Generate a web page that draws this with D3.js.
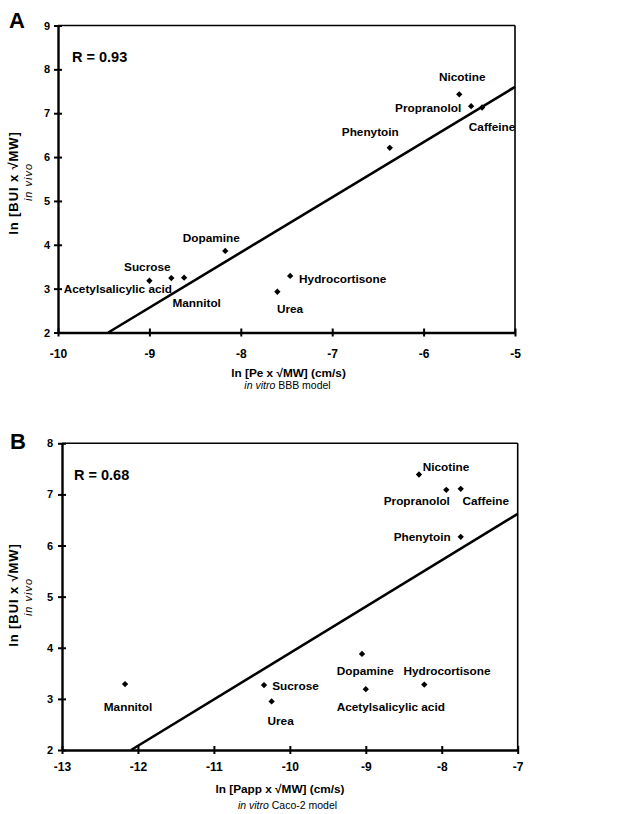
<!DOCTYPE html>
<html>
<head>
<meta charset="utf-8">
<script src="https://cdn.jsdelivr.net/npm/d3@7"></script>
<style>
  html, body { margin: 0; padding: 0; background: #fff; }
  svg { display: block; font-family: "Liberation Sans", Arial, Helvetica, sans-serif; }
  .lbl { font-weight: bold; font-size: 11.8px; fill: #000; }
  .tick text { font-weight: bold; fill: #000; }
</style>
</head>
<body>
<svg id="chart" width="636" height="814"></svg>
<script>
// ---------- data ----------
const compounds = ["Nicotine", "Propranolol", "Caffeine", "Phenytoin", "Dopamine",
                   "Sucrose", "Acetylsalicylic acid", "Mannitol", "Hydrocortisone", "Urea"];
// Panel A: in vitro BBB model
const bbbX = [-5.61, -5.48, -5.36, -6.37, -8.17, -8.76, -9.00, -8.62, -7.46, -7.60];
const bbbY = [7.43, 7.16, 7.13, 6.21, 3.86, 3.24, 3.18, 3.25, 3.29, 2.93];
// Panel B: in vitro Caco-2 model
const cacoX = [-8.30, -7.94, -7.75, -7.75, -9.05, -10.34, -9.00, -12.17, -8.23, -10.24];
const cacoY = [7.39, 7.09, 7.11, 6.17, 3.88, 3.27, 3.19, 3.29, 3.28, 2.95];
// regression lines (end points)
const fitAX = [-9.45, -5];
const fitAY = [2, 7.6];
const fitBX = [-12.09, -7];
const fitBY = [2, 6.62];
// tick values
const ticksAX = [-10, -9, -8, -7, -6, -5];
const ticksAY = [2, 3, 4, 5, 6, 7, 8, 9];
const ticksBX = [-13, -12, -11, -10, -9, -8, -7];
const ticksBY = [2, 3, 4, 5, 6, 7, 8];
const rA = "R = 0.93";
const rB = "R = 0.68";

// ---------- layout (label offsets in px, relative to point) ----------
const offA = [[3, -17], [-43, 2], [10, 19], [-19.5, -16], [-14, -13],
              [-24, -11], [-31.5, 8], [12.5, 25], [52.5, 3], [12.7, 17]];
const offB = [[27, -8], [-29.5, 10.7], [25, 12], [-38.5, 0], [3.3, 16.7],
              [31.5, 0.7], [25, 18], [3, 23], [22.7, -14], [9, 19]];

const svg = d3.select("#chart");

function panel(cfg) {
  const x = d3.scaleLinear().domain(cfg.xDom).range(cfg.xRange);
  const y = d3.scaleLinear().domain(cfg.yDom).range(cfg.yRange);
  const g = svg.append("g");
  const [x0, x1] = cfg.xRange, [y0, y1] = cfg.yRange;

  // frame (top & right thinner)
  g.append("line").attr("x1", x0).attr("x2", x1).attr("y1", y1).attr("y2", y1)
    .attr("stroke", "#000").attr("stroke-width", 1.6);
  g.append("line").attr("x1", x1).attr("x2", x1).attr("y1", y1).attr("y2", y0)
    .attr("stroke", "#000").attr("stroke-width", 1.6);

  // axes
  const ax = g.append("g").attr("transform", `translate(0,${y0})`)
    .call(d3.axisBottom(x).tickValues(cfg.xTicks).tickFormat(d3.format("d")).tickSize(0).tickPadding(cfg.xPad));
  ax.select(".domain").attr("stroke-width", 2.4);
  ax.selectAll(".tick line").remove();
  ax.selectAll(".tick").append("line").attr("y1", -4).attr("y2", 4)
    .attr("stroke", "#000").attr("stroke-width", 2);
  ax.selectAll(".tick text").style("font-size", "12px")
    .text(d => String(d));

  const ay = g.append("g").attr("transform", `translate(${x0},0)`)
    .call(d3.axisLeft(y).tickValues(cfg.yTicks).tickFormat(d3.format("d")).tickSize(0).tickPadding(cfg.yPad));
  ay.select(".domain").attr("stroke-width", 2.4);
  ay.selectAll(".tick line").remove();
  ay.selectAll(".tick").append("line").attr("x1", -4).attr("x2", 4)
    .attr("stroke", "#000").attr("stroke-width", 2);
  ay.selectAll(".tick text").style("font-size", "11px");

  // regression line
  g.append("line")
    .attr("x1", x(cfg.fitX[0])).attr("y1", y(cfg.fitY[0]))
    .attr("x2", x(cfg.fitX[1])).attr("y2", y(cfg.fitY[1]))
    .attr("stroke", "#000").attr("stroke-width", 2.6);

  // points (square rotated 45° = diamond)
  const pts = cfg.xs.map((v, i) => ({ name: compounds[i], x: v, y: cfg.ys[i], off: cfg.off[i] }));
  g.selectAll("path.pt").data(pts).enter().append("path")
    .attr("class", "pt")
    .attr("d", d3.symbol().type(d3.symbolSquare).size(20))
    .attr("transform", d => `translate(${x(d.x)},${y(d.y)}) rotate(45)`)
    .attr("fill", "#000");
  g.selectAll("text.lbl").data(pts).enter().append("text")
    .attr("class", "lbl")
    .attr("x", d => x(d.x) + d.off[0])
    .attr("y", d => y(d.y) + d.off[1])
    .attr("dy", "0.35em")
    .attr("text-anchor", "middle")
    .text(d => d.name);

  // R label
  g.append("text").attr("x", cfg.rPos[0]).attr("y", cfg.rPos[1]).attr("dy", "0.35em")
    .style("font-weight", "bold").style("font-size", "14.5px").text(cfg.r);

  // panel letter
  g.append("text").attr("x", cfg.letterPos[0]).attr("y", cfg.letterPos[1])
    .style("font-weight", "bold").style("font-size", "22px").text(cfg.letter);

  // x title
  g.append("text").attr("x", cfg.xTitleX).attr("y", cfg.xTitleY).attr("dy", "0.35em")
    .attr("text-anchor", "middle").style("font-weight", "bold").style("font-size", "11.8px")
    .text(cfg.xTitle);
  const sub = g.append("text").attr("x", cfg.xSubX).attr("y", cfg.xSubY).attr("dy", "0.35em")
    .attr("text-anchor", "middle").style("font-size", "10.5px");
  sub.append("tspan").style("font-style", "italic").text("in vitro");
  sub.append("tspan").text(" " + cfg.xSub);

  // y title
  g.append("text").attr("transform", `translate(${cfg.yTitleX},${cfg.yTitleC}) rotate(-90)`)
    .attr("dy", "0.35em").attr("text-anchor", "middle")
    .style("font-weight", "bold").style("font-size", "13px").style("letter-spacing", "0.9px")
    .text("ln [BUI x \u221AMW]");
  g.append("text").attr("transform", `translate(${cfg.ySubX},${cfg.ySubC}) rotate(-90)`)
    .attr("dy", "0.35em").attr("text-anchor", "middle")
    .style("font-style", "italic").style("font-size", "11px").style("letter-spacing", "1px")
    .text("in vivo");
}

panel({
  xDom: [-10, -5], xRange: [58, 515],
  yDom: [2, 9], yRange: [332.5, 25.5],
  xTicks: ticksAX, yTicks: ticksAY, xPad: 17, yPad: 8,
  xs: bbbX, ys: bbbY, off: offA, fitX: fitAX, fitY: fitAY,
  r: rA, rPos: [72, 57], letter: "A", letterPos: [9, 28],
  xTitle: "ln [Pe x \u221AMW] (cm/s)", xSub: "BBB model",
  xTitleX: 288.5, xTitleY: 372.5, xSubX: 287.5, xSubY: 385.5,
  yTitleX: 13, yTitleC: 183, ySubX: 28, ySubC: 182
});

panel({
  xDom: [-13, -7], xRange: [62, 517.7],
  yDom: [2, 8], yRange: [750, 443.3],
  xTicks: ticksBX, yTicks: ticksBY, xPad: 12, yPad: 9,
  xs: cacoX, ys: cacoY, off: offB, fitX: fitBX, fitY: fitBY,
  r: rB, rPos: [74, 475], letter: "B", letterPos: [10, 449],
  xTitle: "ln [Papp x \u221AMW] (cm/s)", xSub: "Caco-2 model",
  xTitleX: 280, xTitleY: 789, xSubX: 287.5, xSubY: 805,
  yTitleX: 13, yTitleC: 595, ySubX: 28, ySubC: 597
});
</script>
</body>
</html>
